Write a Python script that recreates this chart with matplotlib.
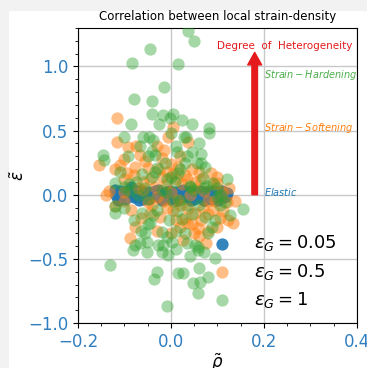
import matplotlib
matplotlib.use("Agg")
import matplotlib.pyplot as plt
from matplotlib.patches import Rectangle
from matplotlib.ticker import AutoMinorLocator, MultipleLocator

# local density deviation (rho~) vs local strain deviation (eps~) per grain
rho_005 = [-0.12, -0.115, -0.105, -0.095, -0.085, -0.08, -0.07, -0.06, -0.05,
           -0.045, -0.035, -0.025, -0.015, -0.005, 0.0, 0.01, 0.02, 0.03,
           0.04, 0.05, 0.055, 0.065, 0.075, 0.085, 0.09, 0.1, 0.105, 0.115,
           0.12, -0.11, -0.065, -0.02, 0.025, 0.07, 0.11, 0.0,
           -0.118, -0.108, -0.098, -0.088, -0.078, -0.068, -0.058, -0.048,
           -0.038, -0.028, -0.018, -0.008, 0.002, 0.012, 0.022, 0.032, 0.042,
           0.052, 0.062, 0.072, 0.082, 0.092, 0.102, 0.118]
eps_005 = [0.04, -0.04, 0.01, 0.02, 0.06, -0.02, 0.03, -0.03, 0.02,
           -0.01, 0.03, -0.02, 0.01, 0.03, -0.03, 0.02, -0.02, 0.01,
           0.03, -0.03, 0.01, -0.02, 0.02, -0.03, 0.0, -0.01, 0.02, -0.02,
           0.01, -0.03, 0.0, -0.04, 0.04, -0.04, 0.03, 0.0,
           0.0, 0.03, -0.03, 0.04, -0.01, -0.04, 0.02, -0.03,
           0.0, 0.04, -0.03, 0.0, 0.02, -0.04, 0.03, -0.02, -0.04,
           0.02, 0.03, -0.04, 0.02, 0.03, -0.04, -0.01]

rho_05 = [-0.116, 0.004, -0.116, -0.006, 0.037, -0.155, -0.11, -0.095, -0.056,
          -0.067, -0.019, -0.009, -0.077, -0.049, 0.045, 0.052, 0.099, -0.133,
          -0.034, 0.024, -0.092, -0.12, 0.138, 0.112, 0.123, -0.077, 0.052,
          0.069, 0.045, 0.058, -0.009, -0.024, -0.088, 0.03, 0.037, 0.134,
          0.09, -0.14, -0.10, -0.06, -0.03, 0.0, 0.015, 0.04, 0.07, 0.08,
          0.11, 0.12, -0.05, 0.01, -0.02, 0.03, 0.0, 0.06, -0.10, 0.02, 0.0,
          -0.04, 0.06, 0.08, -0.015, 0.015, 0.09, 0.10, -0.06, 0.10, -0.12,
          0.125, -0.03,
          -0.08, -0.07, -0.045, -0.025, -0.01, 0.005, 0.02, 0.035, 0.05,
          0.065, 0.085, -0.1, -0.085, -0.065, -0.045, -0.015, 0.005, 0.02,
          0.035, 0.05, 0.065, 0.08, 0.095, 0.105, -0.03, -0.075, 0.01, 0.025,
          -0.1, 0.075]
eps_05 = [0.60, 0.53, 0.41, 0.45, 0.41, 0.23, 0.23, 0.17, 0.26,
          0.31, 0.29, 0.18, 0.22, 0.21, 0.20, 0.10, 0.09, 0.03,
          0.06, 0.08, 0.37, -0.09, -0.05, -0.13, -0.20, -0.25, -0.14,
          -0.10, -0.23, -0.26, -0.10, -0.17, -0.34, -0.18, -0.10, -0.22,
          0.08, 0.0, 0.02, 0.04, -0.02, 0.02, -0.04, 0.0, 0.03, -0.05,
          0.02, -0.06, -0.06, 0.12, 0.14, 0.15, 0.24, 0.18, 0.12, -0.25, -0.30,
          -0.08, -0.32, -0.28, 0.35, 0.22, -0.12, -0.25, 0.10, 0.14, 0.20,
          0.05, -0.28,
          0.15, 0.05, 0.12, 0.20, 0.08, 0.16, 0.30, 0.12, 0.05,
          0.12, 0.17, -0.05, -0.12, -0.18, -0.14, -0.05, -0.12, -0.08,
          -0.22, -0.30, -0.20, -0.15, -0.05, -0.18, 0.38, 0.38, -0.20, -0.35,
          0.28, -0.38]

rho_1 = [0.037, 0.05, -0.045, -0.084, 0.015, -0.015, -0.08, -0.041, -0.041,
         -0.017, 0.004, -0.002, 0.024, -0.086, 0.082, 0.082, 0.032, -0.047,
         -0.039, 0.028, -0.067, -0.146, -0.144, -0.092, -0.041, -0.034, 0.013,
         0.045, 0.034, -0.013, 0.03, 0.065, 0.073, -0.03, -0.062, -0.041,
         0.015, 0.069, 0.12, 0.09, -0.12, -0.009, 0.009, -0.12, 0.155, 0.116,
         -0.062, -0.049, -0.039, 0.013, 0.024, 0.073, 0.088, -0.019, -0.009,
         -0.056, -0.077, -0.052, -0.028, 0.002, 0.034, 0.052, 0.058, -0.052,
         -0.131, -0.03, -0.037, 0.015, 0.026, 0.06, 0.08, 0.047, 0.062,
         0.058, -0.009, 0.095, -0.006, -0.082, -0.067, 0.058, -0.017, 0.127,
         -0.12, -0.09, -0.05, -0.01, 0.02, 0.05, 0.1, -0.07, 0.035, 0.07,
         0.108, 0.005, -0.1, 0.04,
         -0.11, -0.09, -0.075, -0.055, -0.035, -0.02, 0.0, 0.02, 0.04, 0.055,
         0.075, 0.1, 0.105, -0.1, -0.08, -0.065, -0.045, -0.03, -0.005, 0.01,
         0.03, 0.045, 0.06, 0.08, 0.095, -0.02, 0.01, 0.04, 0.07, -0.06, 0.0,
         0.06, -0.025, 0.045, -0.1, 0.01, -0.05, 0.065]
eps_1 = [1.28, 1.20, 1.14, 1.03, 1.02, 0.84, 0.75, 0.73, 0.63,
         0.62, 0.63, 0.60, 0.58, 0.55, 0.52, 0.48, 0.45, 0.45,
         0.43, 0.45, 0.38, 0.31, 0.27, 0.30, 0.34, 0.31, 0.33,
         0.33, 0.30, 0.25, 0.25, 0.25, 0.22, 0.21, 0.16, 0.14,
         0.17, 0.13, 0.12, 0.09, 0.09, 0.12, 0.10, -0.14, -0.11, -0.06,
         -0.14, -0.23, -0.16, -0.13, -0.19, -0.17, -0.25, -0.29, -0.33,
         -0.30, -0.39, -0.37, -0.39, -0.37, -0.38, -0.39, -0.43, -0.45,
         -0.55, -0.60, -0.66, -0.61, -0.61, -0.57, -0.64, -0.69, -0.68,
         -0.77, -0.87, -0.49, -0.47, -0.43, -0.38, -0.41, -0.39, -0.16,
         -0.09, 0.03, -0.03, 0.02, -0.04, 0.04, -0.02, 0.0, -0.08, 0.05,
         0.0, -0.05, 0.06, 0.07,
         0.18, 0.08, 0.10, 0.05, 0.18, 0.04, 0.14, 0.20, 0.06, 0.25,
         0.07, 0.05, -0.08, -0.10, -0.20, -0.28, -0.22, -0.12, -0.20, -0.28,
         -0.30, -0.15, -0.08, -0.30, -0.20, -0.45, -0.42, -0.48, -0.45, 0.45,
         0.48, 0.40, 0.55, 0.55, 0.45, 0.38, 0.30, 0.32]

series = [
    (rho_005, eps_005, "#1f77b4", 0.9, r"$\varepsilon_G = 0.05$"),
    (rho_05, eps_05, "#ff7f0e", 0.5, r"$\varepsilon_G = 0.5$"),
    (rho_1, eps_1, "#2ca02c", 0.42, r"$\varepsilon_G = 1$"),
]

TICK_BLUE = "#2f7fc0"
RED = "#e41a1c"

fig = plt.figure(figsize=(3.67, 3.68), dpi=100, facecolor="#f2f2f2")
fig.patches.append(Rectangle((9 / 367, 0), 1, 1 - 11 / 368, transform=fig.transFigure,
                             facecolor="white", edgecolor="none", zorder=-1))
ax = fig.add_axes([0.2125, 0.1223, 0.7602, 0.8016])

for rho, eps, color, alpha, label in series:
    ax.scatter(rho, eps, s=78, color=color, alpha=alpha, linewidths=0,
               label=label, zorder=3)

ax.set_xlim(-0.2, 0.4)
ax.set_ylim(-1.0, 1.3)
ax.xaxis.set_major_locator(MultipleLocator(0.2))
ax.yaxis.set_major_locator(MultipleLocator(0.5))
ax.xaxis.set_minor_locator(AutoMinorLocator(4))
ax.yaxis.set_minor_locator(AutoMinorLocator(5))
ax.tick_params(axis="both", which="major", labelsize=12, labelcolor=TICK_BLUE)
ax.grid(True, which="major", color="#c8c8c8", linewidth=1, zorder=0)
ax.set_axisbelow(True)

ax.set_title("Correlation between local strain-density", fontsize=8.5)
ax.set_xlabel(r"$\tilde{\rho}$", fontsize=12, labelpad=1)
ax.set_ylabel(r"$\tilde{\varepsilon}$", fontsize=12, labelpad=0)

# heterogeneity arrow with the regime labels beside it
ax.annotate("", xy=(0.18, 1.11), xytext=(0.18, 0.0),
            arrowprops=dict(color=RED, width=4, headwidth=10, headlength=9,
                            shrink=0), zorder=4)
ax.text(0.10, 1.16, "Degree  of  Heterogeneity", color=RED, fontsize=7.5,
        va="center", ha="left")
ax.text(0.2, 0.93, r"$Strain-Hardening$", color="#4cae4c", fontsize=7,
        va="center", ha="left")
ax.text(0.2, 0.52, r"$Strain-Softening$", color="#ff7f0e", fontsize=7,
        va="center", ha="left")
ax.text(0.2, 0.02, r"$Elastic$", color="#1f77b4", fontsize=7,
        va="center", ha="left")

ax.legend(loc="lower right", bbox_to_anchor=(0.986, -0.01), frameon=False,
          fontsize=13, labelspacing=0.45)

fig.savefig("out.png", dpi=100, facecolor=fig.get_facecolor())
